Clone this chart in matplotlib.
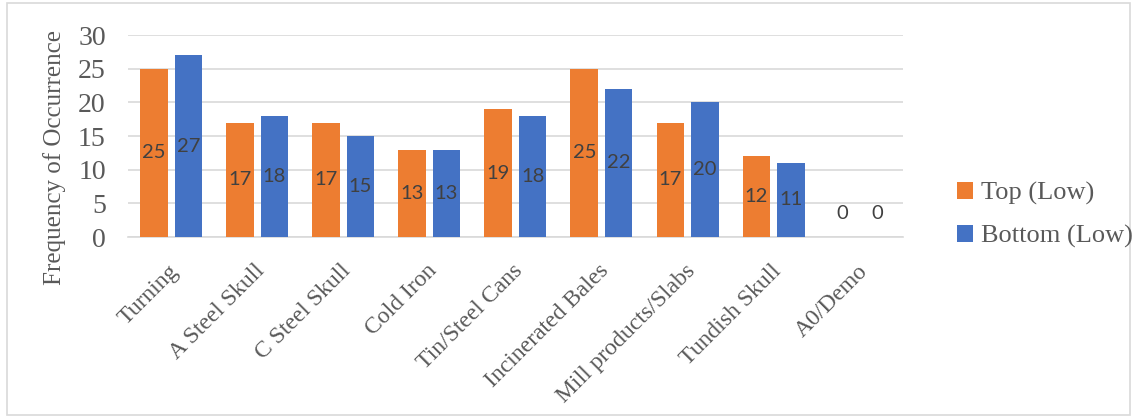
import matplotlib.pyplot as plt
import matplotlib.transforms as mtransforms
import numpy as np
from matplotlib.patches import Rectangle

# scrap categories and counts per position
categories = ['Turning', 'A Steel Skull', 'C Steel Skull', 'Cold Iron', 'Tin/Steel Cans',
              'Incinerated Bales', 'Mill products/Slabs', 'Tundish Skull', 'A0/Demo']
top_low = [25, 17, 17, 13, 19, 25, 17, 12, 0]
bottom_low = [27, 18, 15, 13, 18, 22, 20, 11, 0]
series_names = ['Top (Low)', 'Bottom (Low)']

orange = '#ED7D31'
blue = '#4472C4'
grey_text = '#595959'
serif = 'Liberation Serif'

fig = plt.figure(figsize=(11.37, 4.18), dpi=100)
ax = fig.add_axes([0.1126, 0.433, 0.6814, 0.483])

x = np.arange(len(categories))
w = 0.32
b1 = ax.bar(x - 0.2, top_low, w, color=orange, label=series_names[0], zorder=3)
b2 = ax.bar(x + 0.2, bottom_low, w, color=blue, label=series_names[1], zorder=3)

# value labels sit in the middle of each bar
for bars, vals in [(b1, top_low), (b2, bottom_low)]:
    for rect, v in zip(bars, vals):
        ypos = v / 2 if v > 0 else 3.5
        ax.text(rect.get_x() + rect.get_width() / 2, ypos, str(v), ha='center', va='center',
                fontsize=14.5, family='Lato', color='#404040', zorder=4)

ax.set_ylim(0, 30)
ax.set_xlim(-0.5, len(categories) - 0.5)
ax.set_yticks(range(0, 31, 5))
ax.yaxis.grid(True, color='#D9D9D9', linewidth=1.2, zorder=0)
ax.set_axisbelow(True)
for s in ['top', 'right', 'left']:
    ax.spines[s].set_visible(False)
ax.spines['bottom'].set_color('#D9D9D9')
ax.spines['bottom'].set_linewidth(1.2)
ax.tick_params(length=0)
ax.tick_params(axis='y', pad=16)
ax.tick_params(axis='x', pad=17)

ax.set_xticks(x)
ax.set_xticklabels(categories, rotation=45, ha='right', rotation_mode='anchor',
                   fontsize=17, family=serif, color=grey_text)
shift = mtransforms.ScaledTranslation(-3 / 100, 0, fig.dpi_scale_trans)
for lbl in ax.get_xticklabels():
    lbl.set_transform(lbl.get_transform() + shift)
for lbl in ax.get_yticklabels():
    lbl.set_fontsize(20)
    lbl.set_family(serif)
    lbl.set_color(grey_text)

ax.set_ylabel('Frequency of Occurrence', fontsize=18, family=serif, color=grey_text)
ax.yaxis.set_label_coords(-0.08, 0.396)

fig.legend(handles=[b1, b2], loc='center left', bbox_to_anchor=(0.821, 0.485),
           frameon=False, prop={'family': serif, 'size': 19}, labelcolor=grey_text,
           handlelength=0.6, handleheight=0.6, handletextpad=0.3, labelspacing=0.75)

# thin border round the whole chart
fig.patches.append(Rectangle((0.006, 0.007), 0.988, 0.986, transform=fig.transFigure,
                             fill=False, edgecolor='#D9D9D9', linewidth=1.2))

fig.savefig('out.png', dpi=100)
